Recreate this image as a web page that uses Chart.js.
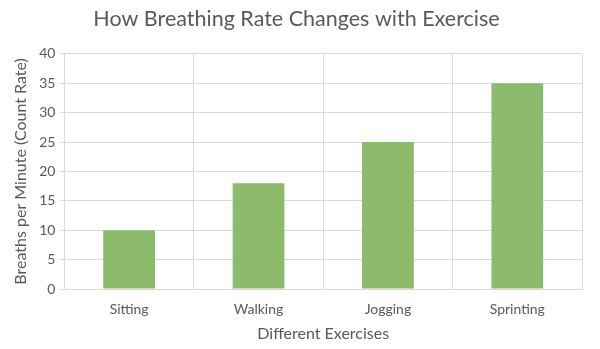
<!DOCTYPE html>
<html>
<head>
<meta charset="utf-8">
<script src="https://cdn.jsdelivr.net/npm/chart.js@4"></script>
<style>
  html, body { margin: 0; padding: 0; background: #fff; }
  #wrap { width: 600px; height: 349px; }
</style>
</head>
<body>
<div id="wrap"><canvas id="breathChart"></canvas></div>
<script>
// chart data
const exercises = ['Sitting', 'Walking', 'Jogging', 'Sprinting'];
const breathsPerMinute = [10, 18, 25, 35];

const textGrey = '#595959';
const gridGrey = '#d9d9d9';

new Chart(document.getElementById('breathChart'), {
    type: 'bar',
    data: {
        labels: exercises,
        datasets: [{
            label: 'Breaths per Minute',
            data: breathsPerMinute,
            backgroundColor: '#8cbb6c',
            borderWidth: 0,
            barPercentage: 0.4,
            categoryPercentage: 1
        }]
    },
    options: {
        responsive: true,
        maintainAspectRatio: false,
        animation: false,
        layout: { padding: { left: 11, right: 18, top: 4, bottom: 6 } },
        plugins: {
            legend: { display: false },
            tooltip: { enabled: false },
            title: {
                display: true,
                text: 'How Breathing Rate Changes with Exercise',
                color: textGrey,
                font: { family: 'Lato', size: 21.5, weight: 'normal' },
                padding: { top: 2, bottom: 22 }
            }
        },
        scales: {
            x: {
                grid: { color: gridGrey, drawTicks: false, offset: true },
                border: { color: gridGrey },
                ticks: { color: textGrey, font: { family: 'Lato', size: 14 }, padding: 12 },
                title: {
                    display: true,
                    text: 'Different Exercises',
                    color: textGrey,
                    font: { family: 'Lato', size: 16 },
                    padding: { top: -6, bottom: 0 }
                }
            },
            y: {
                min: 0,
                max: 40,
                grid: { color: gridGrey, tickLength: 4 },
                border: { color: gridGrey },
                ticks: { stepSize: 5, color: textGrey, font: { family: 'Lato', size: 14 }, padding: 5 },
                title: {
                    display: true,
                    text: 'Breaths per Minute (Count Rate)',
                    color: textGrey,
                    font: { family: 'Lato', size: 16 },
                    padding: { top: 0, bottom: 4 }
                }
            }
        }
    }
});
</script>
</body>
</html>
